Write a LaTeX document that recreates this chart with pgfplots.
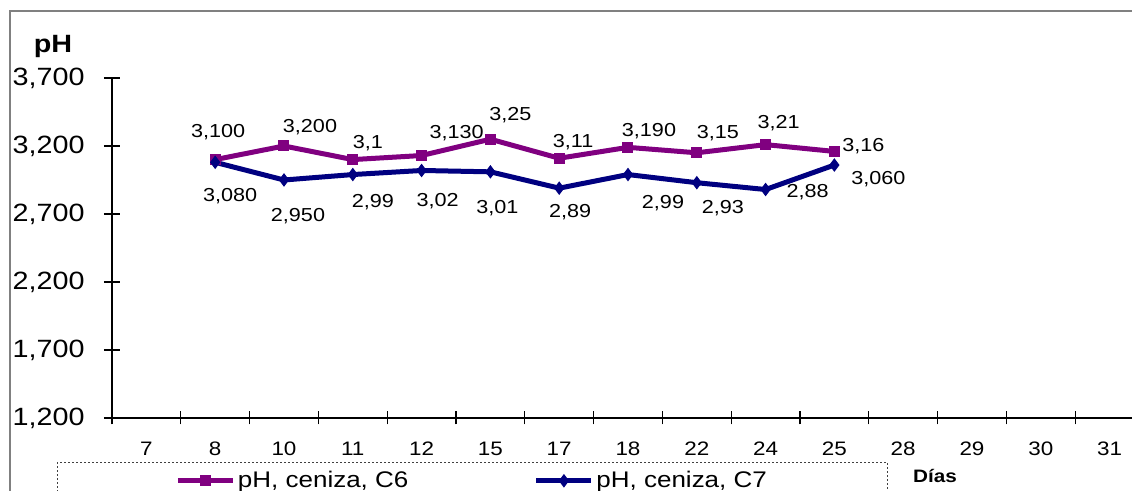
\documentclass[border=0pt]{standalone}
\usepackage{pgfplots}
\pgfplotsset{compat=1.18}
\usepackage{pgfplotstable}
\usepackage{fontspec}
\setmainfont{Liberation Sans}[FakeStretch=1.15]
\definecolor{cPurple}{RGB}{128,0,128}
\definecolor{cNavy}{RGB}{0,0,128}
\definecolor{cFrame}{RGB}{128,128,128}

\pgfplotstableread{
x y dx dy lab
1 3.10 1.5 13.5 3,100
2 3.20 13 9.5 3,200
3 3.10 7.5 8 3,1
4 3.13 17.5 11 3,130
5 3.25 10 12 3,25
6 3.11 7 8 3,11
7 3.19 10.5 8 3,190
8 3.15 10.5 10 3,15
9 3.21 6.5 10.5 3,21
10 3.16 14.5 2.5 3,16
}\tabC

\pgfplotstableread{
x y dx dy lab
1 3.08 7.5 -17 3,080
2 2.95 7 -18 2,950
3 2.99 10 -14 2,99
4 3.02 8 -15.5 3,02
5 3.01 3.5 -18 3,01
6 2.89 5.5 -12 2,89
7 2.99 17.5 -14.5 2,99
8 2.93 13 -12.5 2,93
9 2.88 21 -1.5 2,88
10 3.06 22 -7 3,060
}\tabD

\begin{document}
\begin{tikzpicture}
\begin{axis}[
  scale only axis, width=516pt, height=170pt,
  xmin=-0.5, xmax=14.5, ymin=1.2, ymax=3.7,
  clip=false,
  axis x line*=bottom, axis y line*=left,
  axis line style={black, line width=0.6pt},
  tick align=center,
  xtick={0,...,14},
  xticklabels={7,8,10,11,12,15,17,18,22,24,25,28,29,30,31},
  minor xtick={-0.5,0.5,...,14.5},
  major x tick style={draw=none},
  minor x tick style={black, line width=0.6pt},
  minor tick length=6.5pt,
  ytick={1.2,1.7,2.2,2.7,3.2,3.7},
  major tick length=8pt,
  y tick style={black, line width=0.6pt},
  xticklabel style={font=\fontsize{9.75}{11}\selectfont, anchor=center, yshift=-11.5pt},
  yticklabel style={font=\fontsize{12.5}{15}\selectfont, anchor=east, inner xsep=0pt, xshift=-9.5pt,
    /pgf/number format/.cd, fixed, fixed zerofill, precision=3, use comma, 1000 sep={}, assume math mode=true},
  legend columns=2,
  legend image code/.code={\draw[mark repeat=2,mark phase=2,#1,solid] plot coordinates {(0pt,0pt) (13.75pt,0pt) (27.5pt,0pt)};},
  legend style={at={(-0.0533,-0.1294)}, anchor=north west,
    draw=black!75, dash pattern=on 1pt off 1pt, line width=0.5pt,
    font=\fontsize{11.3}{13}\selectfont,
    inner xsep=59pt, inner ysep=2.3pt,
    nodes={inner xsep=1.25pt, inner ysep=2pt},
    /tikz/every even column/.append style={column sep=61.5pt}},
]
\addplot[cPurple, line width=2.5pt, mark=square*, mark size=2.5pt,
  mark options={solid, line width=0.5pt},
  nodes near coords, point meta=explicit symbolic,
  visualization depends on={\thisrow{dx}\as\myDx},
  visualization depends on={\thisrow{dy}\as\myDy},
  every node near coord/.append style={anchor=center, xshift=\myDx pt, yshift=\myDy pt, text=black, font=\fontsize{9.4}{11}\selectfont}]
  table[x=x, y=y, meta=lab]{\tabC};
\addlegendentry{pH, ceniza, C6}
\addplot[cNavy, line width=2.5pt, mark=diamond*, mark size=3pt,
  mark options={solid, line width=0.5pt},
  nodes near coords, point meta=explicit symbolic,
  visualization depends on={\thisrow{dx}\as\myDx},
  visualization depends on={\thisrow{dy}\as\myDy},
  every node near coord/.append style={anchor=center, xshift=\myDx pt, yshift=\myDy pt, text=black, font=\fontsize{9.4}{11}\selectfont}]
  table[x=x, y=y, meta=lab]{\tabD};
\addlegendentry{pH, ceniza, C7}
\end{axis}
\draw[cFrame, line width=1.2pt] (-51pt,-45pt) -- (-51pt,203.5pt) -- (530pt,203.5pt);
\node[font=\bfseries\fontsize{12.5}{15}\selectfont] at (-29.5pt,185.5pt) {pH};
\node[font=\bfseries\fontsize{9}{11}\selectfont] at (411.5pt,-29pt) {Días};
\pgfresetboundingbox
\path[use as bounding box] (-56pt,-36.5pt) rectangle (510pt,209pt);
\end{tikzpicture}
\end{document}
